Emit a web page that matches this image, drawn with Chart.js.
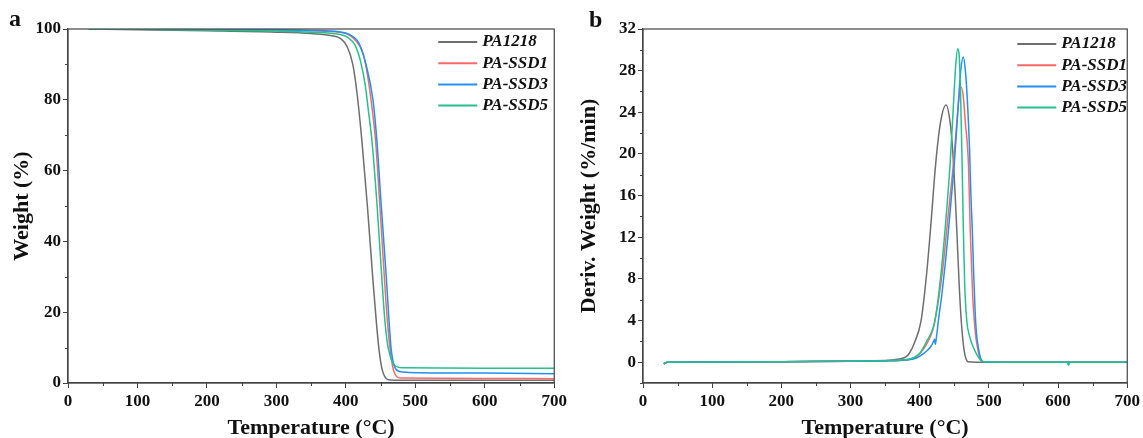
<!DOCTYPE html>
<html><head><meta charset="utf-8">
<script src="https://cdn.jsdelivr.net/npm/chart.js@4.4.0/dist/chart.umd.min.js"></script>
<style>
html,body{margin:0;padding:0;background:#fff;}
#wrap{position:relative;width:1143px;height:438px;overflow:hidden;background:#fff;}
canvas{position:absolute;top:0;}
</style></head><body>
<div id="wrap">
<canvas id="tga" style="left:0" width="570" height="438"></canvas>
<canvas id="dtg" style="left:570px" width="573" height="438"></canvas>
</div>
<script>
// ---------- data ----------
const seriesNames  = ['PA1218', 'PA-SSD1', 'PA-SSD3', 'PA-SSD5'];
const seriesColors = ['#6e6e6e', '#f86a6a', '#2290f0', '#25c08e'];
const seriesOrder  = [4, 3, 2, 1];

const xTicks     = [0, 100, 200, 300, 400, 500, 600, 700];
const xMinor     = [50, 150, 250, 350, 450, 550, 650];
const tgaYTicks  = [0, 20, 40, 60, 80, 100];
const tgaYMinor  = [10, 30, 50, 70, 90];
const dtgYTicks  = [0, 4, 8, 12, 16, 20, 24, 28, 32];
const dtgYMinor  = [-2, 2, 6, 10, 14, 18, 22, 26, 30];

// TGA: weight (%) vs temperature (°C)
const tgaT_PA1218 = [30,100,200,300,350,380,393,402,410,416,423,431,439,444,448,452,456,461,470,550,700];
const tgaW_PA1218 = [99.95,99.8,99.5,99.1,98.7,98.1,97.2,95,90,82,68.6,50,29,17,9,4,1.8,0.9,0.8,0.8,0.8];
const tgaT_SSD1 = [30,100,200,300,350,390,405,415,425,432,437.5,442.7,449,455.7,460,464,467,470,474,480,600,700];
const tgaW_SSD1 = [100,99.95,99.85,99.7,99.5,99.1,98.3,96.5,93,86,78,68.6,50,29,17,9,5,2.8,1.7,1.4,1.3,1.2];
const tgaT_SSD3 = [30,100,200,300,350,390,405,416,421,429,439,444.6,451,458.5,462,465,468,471,476,490,600,700];
const tgaW_SSD3 = [100,99.95,99.85,99.75,99.6,99.2,98.5,96.8,95,90,80,68.6,50,29,18,10,6,4.2,3.3,3.0,2.8,2.6];
const tgaT_SSD5 = [30,100,200,300,350,390,403,413,421,428,433,437.5,445,452,456,460,464,468,473,480,600,700];
const tgaW_SSD5 = [100,99.9,99.7,99.4,99.1,98.5,97.6,95.5,91,84,76,68.6,50,29,18,11,7.5,5.5,4.6,4.3,4.2,4.2];

// DTG: deriv. weight (%/min) vs temperature (°C)
const dtgT_PA1218 = [30,35,100,200,300,350,370,380,385,392,402,410,416.6,423,430,438,444,448,453,457,460,464,467,470,500,700];
const dtgD_PA1218 = [-0.15,0,0.02,0.05,0.12,0.15,0.3,0.5,0.86,1.8,4,8.5,13.6,19,23,24.7,23,20,13.6,7.5,4,1.2,0.3,0.05,0,0];
const dtgT_SSD1 = [30,35,100,200,300,350,380,395,405,412,419,426,433,439,444,448.8,453,457,460,463,466,470.4,473,476.6,480,484,489,500,700];
const dtgD_SSD1 = [-0.15,0,0.02,0.04,0.08,0.12,0.2,0.5,1.2,2,3.1,5.5,8.8,12.7,16,19.1,22.5,25.5,26.4,25.5,23,19.1,12.7,6.3,3.1,1.2,0.1,0,0];
const dtgT_SSD3 = [30,35,100,200,300,350,380,395,405,412,417,420,421.5,422.5,424,427,432,437,441.6,446,450,455,459,463,466,469,472,474,476,478,480,482,485,488,491,500,700];
const dtgD_SSD3 = [-0.15,0,0.02,0.04,0.08,0.12,0.2,0.4,0.8,1.2,1.6,2.0,2.2,1.7,2.3,4,6.5,9.5,12.7,16,19.1,24,27.8,29.3,28,25,20.5,16,12.7,8.5,5,2.8,1.3,0.4,0.05,0,0];
const dtgT_SSD5 = [30,35,100,200,300,350,380,390,400,410,422,430,437,444,449,452,455,457,459,461,463,465,468,472,477,482,488,493,550,613,615,617,700];
const dtgD_SSD5 = [-0.2,0,0.02,0.05,0.1,0.14,0.25,0.4,0.86,2,4,8,13,19.1,25,28.5,30.1,29.5,26,20,13,7.5,4,2.5,1.5,0.8,0.2,0.05,0,0,-0.3,0,0];

// ---------- helpers ----------
const SERIF = '"Liberation Serif", "Times New Roman", serif';
const pts = (xs, ys) => xs.map((x, i) => ({x: x, y: ys[i]}));
function makeDatasets(xsList, ysList) {
  return seriesNames.map((name, i) => ({
    label: name,
    data: pts(xsList[i], ysList[i]),
    borderColor: seriesColors[i],
    backgroundColor: seriesColors[i],
    borderWidth: 1.5,
    pointRadius: 0,
    fill: false,
    cubicInterpolationMode: 'monotone',
    order: seriesOrder[i]
  }));
}

const decorPlugin = {
  id: 'decor',
  afterDraw(chart, args, o) {
    const ctx = chart.ctx, ca = chart.chartArea;
    const xs = chart.scales.x, ys = chart.scales.y;
    ctx.save();
    // frame
    ctx.strokeStyle = '#444'; ctx.lineWidth = 1.2;
    ctx.strokeRect(ca.left, ca.top, ca.right - ca.left, ca.bottom - ca.top);
    // minor ticks
    ctx.beginPath();
    o.xMinor.forEach(v => { const p = Math.round(xs.getPixelForValue(v)) + 0.5; ctx.moveTo(p, ca.bottom); ctx.lineTo(p, ca.bottom + 3); });
    o.yMinor.forEach(v => { const p = Math.round(ys.getPixelForValue(v)) + 0.5; ctx.moveTo(ca.left, p); ctx.lineTo(ca.left - 3, p); });
    ctx.lineWidth = 1; ctx.stroke();
    // legend
    ctx.font = 'italic bold 17px ' + SERIF;
    ctx.textBaseline = 'middle'; ctx.textAlign = 'left';
    seriesNames.forEach((name, i) => {
      const y = o.legTop + i * o.legGap;
      ctx.strokeStyle = seriesColors[i]; ctx.lineWidth = 2;
      ctx.beginPath(); ctx.moveTo(ca.right - o.lineStart, y); ctx.lineTo(ca.right - o.lineEnd, y); ctx.stroke();
      ctx.fillStyle = '#111';
      ctx.fillText(name, ca.right - o.textStart, y);
    });
    // panel letter
    ctx.font = 'bold 24px ' + SERIF;
    ctx.textBaseline = 'alphabetic';
    ctx.fillStyle = '#111';
    ctx.fillText(o.letter, o.letterX, o.letterY);
    ctx.restore();
  }
};

function makeChart(id, datasets, cfg) {
  return new Chart(document.getElementById(id), {
    type: 'line',
    data: {datasets: datasets},
    options: {
      responsive: false,
      animation: false,
      events: [],
      layout: {padding: {top: 29, right: cfg.rightPad, left: 0, bottom: 0}},
      plugins: {
        legend: {display: false},
        tooltip: {enabled: false},
        decor: cfg.decor
      },
      scales: {
        x: {
          type: 'linear', min: 0, max: 700,
          afterBuildTicks: s => { s.ticks = xTicks.map(v => ({value: v})); },
          afterFit: s => { s.height = 55; },
          ticks: {font: {family: SERIF, size: 17, weight: 'bold'}, color: '#111', padding: 3, maxRotation: 0, autoSkip: false},
          grid: {drawOnChartArea: false, drawTicks: true, tickLength: 5, tickColor: '#444', tickWidth: 1},
          border: {color: '#444', width: 1.2},
          title: {display: true, text: 'Temperature (°C)', color: '#111',
                  font: {family: SERIF, size: 22, weight: 'bold', lineHeight: 1}, padding: {top: 0, bottom: -1}}
        },
        y: {
          type: 'linear', min: cfg.yMin, max: cfg.yMax,
          afterBuildTicks: s => { s.ticks = cfg.yTicks.map(v => ({value: v})); },
          afterFit: s => { s.width = cfg.yWidth; },
          ticks: {font: {family: SERIF, size: 17, weight: 'bold'}, color: '#111', padding: 2, autoSkip: false},
          grid: {drawOnChartArea: false, drawTicks: true, tickLength: 5, tickColor: '#444', tickWidth: 1},
          border: {color: '#444', width: 1.2},
          title: {display: true, text: cfg.yTitle, color: '#111',
                  font: {family: SERIF, size: 22, weight: 'bold', lineHeight: 1}, padding: {top: cfg.yTitlePad, bottom: 0}}
        }
      }
    },
    plugins: [decorPlugin]
  });
}

makeChart('tga',
  makeDatasets([tgaT_PA1218, tgaT_SSD1, tgaT_SSD3, tgaT_SSD5], [tgaW_PA1218, tgaW_SSD1, tgaW_SSD3, tgaW_SSD5]),
  {yMin: 0, yMax: 100, yTicks: tgaYTicks, yWidth: 68, rightPad: 15, yTitle: 'Weight (%)', yTitlePad: 11,
   decor: {xMinor: xMinor, yMinor: tgaYMinor, legTop: 42, legGap: 21.2, lineStart: 116, lineEnd: 77, textStart: 72,
           letter: 'a', letterX: 9, letterY: 26}});

makeChart('dtg',
  makeDatasets([dtgT_PA1218, dtgT_SSD1, dtgT_SSD3, dtgT_SSD5], [dtgD_PA1218, dtgD_SSD1, dtgD_SSD3, dtgD_SSD5]),
  {yMin: -2, yMax: 32, yTicks: dtgYTicks, yWidth: 73, rightPad: 15, yTitle: 'Deriv. Weight (%/min)', yTitlePad: 8,
   decor: {xMinor: xMinor, yMinor: dtgYMinor, legTop: 44, legGap: 21.2, lineStart: 110, lineEnd: 71, textStart: 66,
           letter: 'b', letterX: 19, letterY: 27}});
</script>
</body></html>
